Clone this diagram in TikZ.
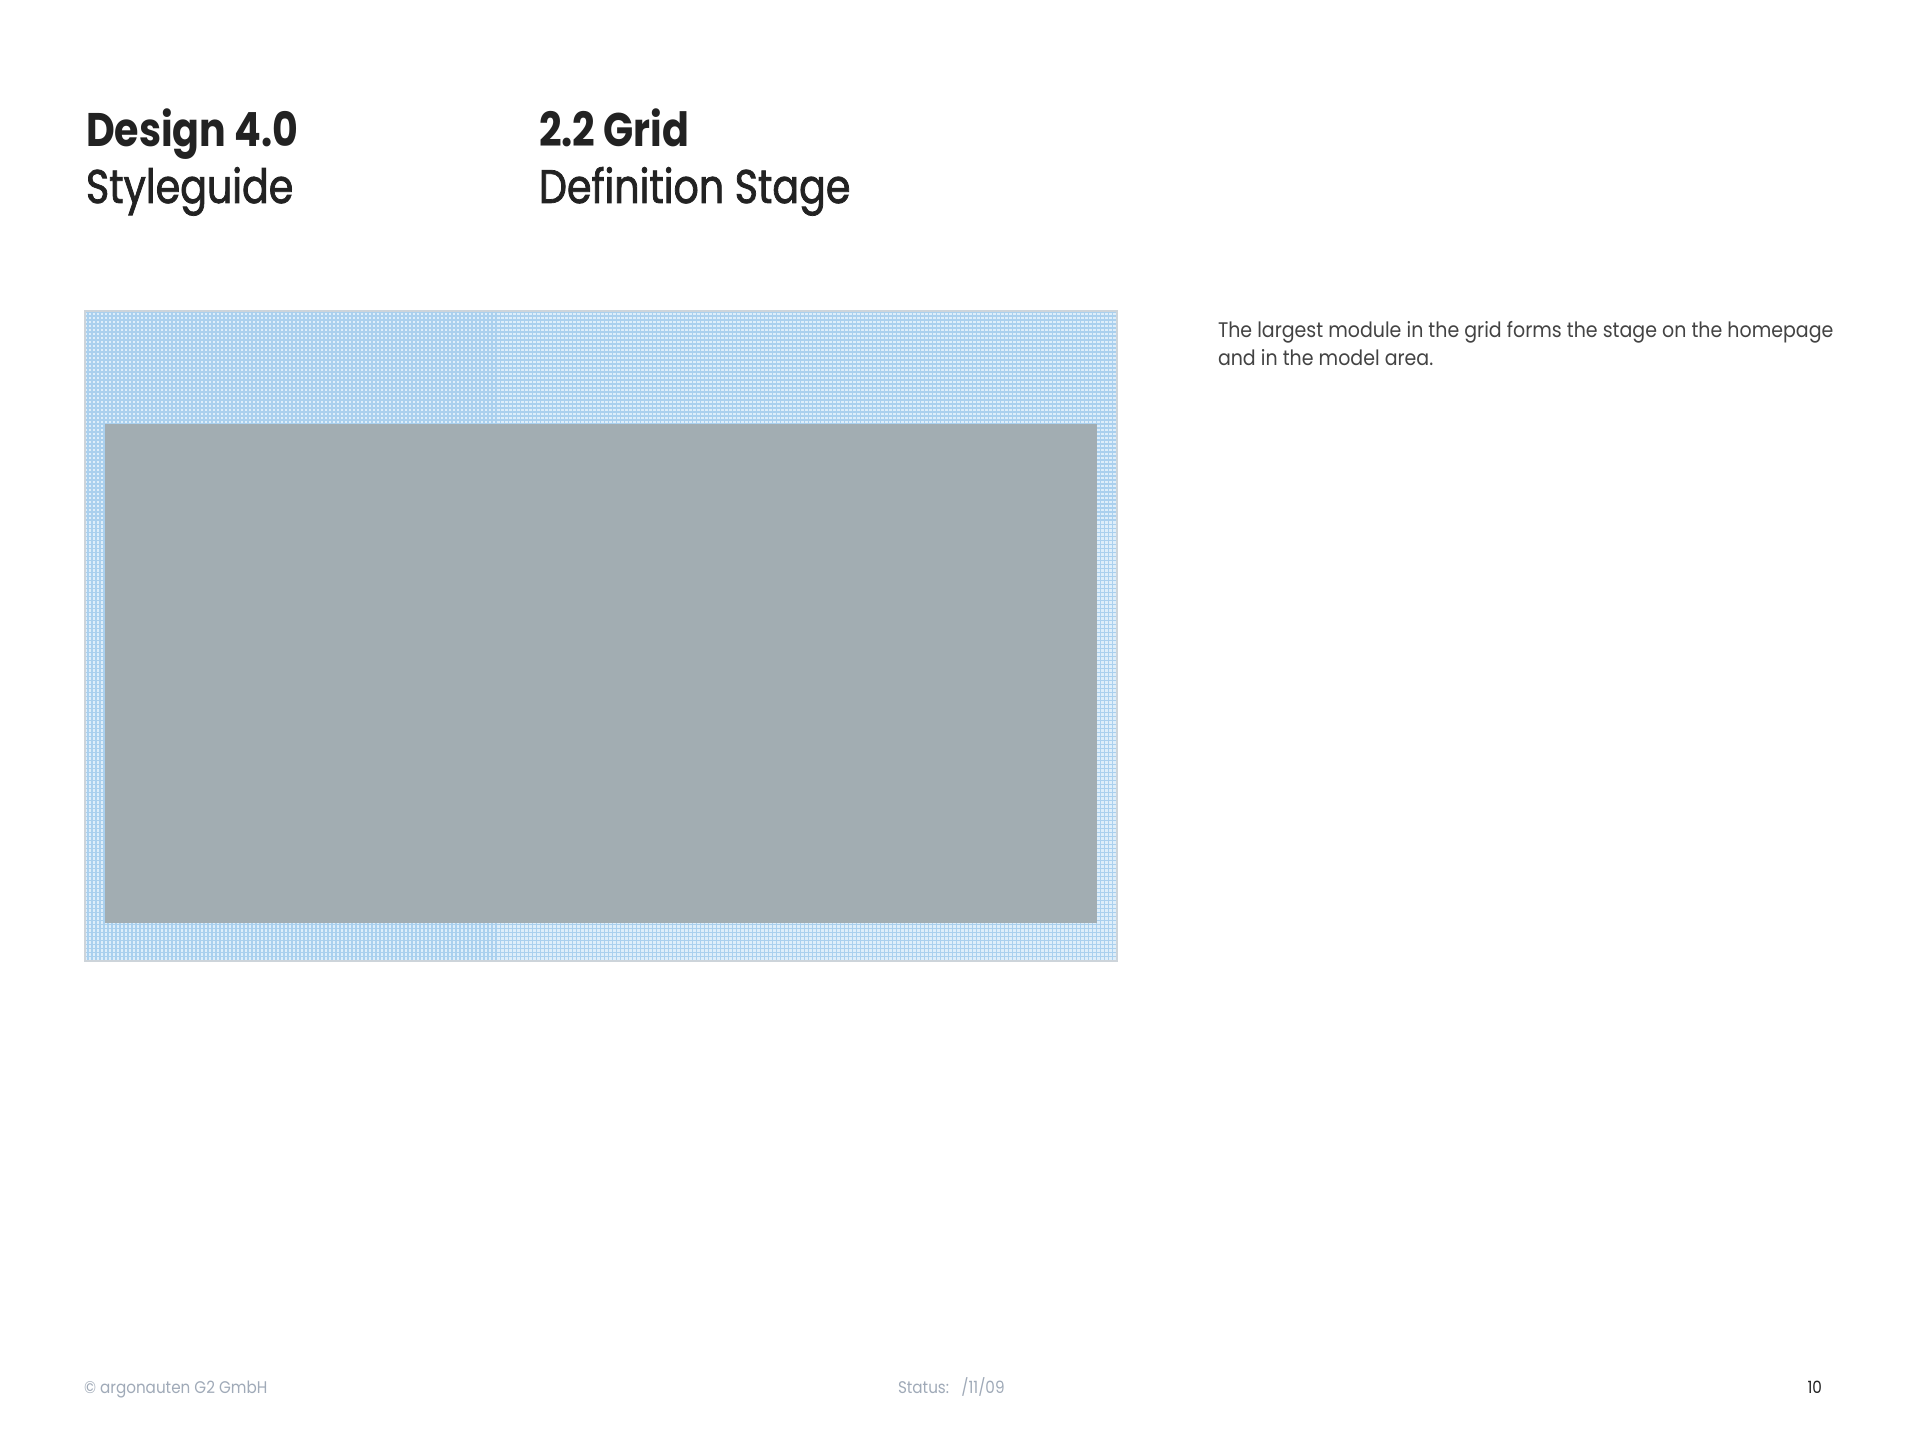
\documentclass[tikz,border=0pt]{standalone}
\usepackage{fontspec}
\setmainfont{Poppins}
\newfontfamily\headfont[FakeStretch=0.84]{Poppins}
\newfontfamily\subfont[FakeStretch=0.84, FakeBold=1.6]{Poppins}
\newfontfamily\bodyfont[FakeStretch=0.9]{Poppins}
\usetikzlibrary{positioning}

\begin{document}
\begin{tikzpicture}[x=0.01cm, y=-0.01cm, every node/.style={inner sep=0pt, outer sep=0pt, anchor=base west}]
    \definecolor{gridfill}{RGB}{222,238,250}
    \definecolor{gridline}{RGB}{170,208,238}
    \definecolor{gridedge}{RGB}{205,212,218}
    \definecolor{stage}{RGB}{162,173,178}
    \definecolor{foot}{RGB}{160,170,184}
    \definecolor{ink}{RGB}{34,34,34}
    \useasboundingbox[fill=white] (0,0) rectangle (1920,1440);
    % Grid
    \fill[fill=gridfill] (85,311) rectangle (1117,961);
    \draw[step=0.04cm, color=gridline, line width=0.4pt] (85,311) grid (1117,961);
    \draw[color=gridedge, line width=0.8pt] (85,311) rectangle (1117,961);
    % Stage
    \node[fill=stage, anchor=north west, minimum width=9.91cm, minimum height=4.99cm] (stage) at (105,424) {};
    % Headline
    \node[font=\headfont\fontsize{13.4}{16}\selectfont\bfseries, color=ink] (design) at (86,147) {Design 4.0};
    \node[font=\subfont\fontsize{13.4}{16}\selectfont, color=ink] (style) at (86,203) {Styleguide};
    \node[font=\headfont\fontsize{13.4}{16}\selectfont\bfseries, color=ink] (grid) at (539,147) {2.2 Grid};
    \node[font=\subfont\fontsize{13.4}{16}\selectfont, color=ink] (defstage) at (539,203) {Definition Stage};
    % Text
    \node[font=\bodyfont\fontsize{6}{8}\selectfont, color=ink!85] (text1) at (1218,338) {The largest module in the grid forms the stage on the homepage};
    \node[font=\bodyfont\fontsize{6}{8}\selectfont, color=ink!85] (text2) at (1218,366) {and in the model area.};
    % Footer
    \node[font=\bodyfont\fontsize{4.8}{6}\selectfont, color=foot] (copy) at (84,1393) {© argonauten G2 GmbH};
    \node[font=\bodyfont\fontsize{4.8}{6}\selectfont, color=foot] (status) at (898,1393) {Status:\ \ \ /11/09};
    \node[font=\bodyfont\fontsize{4.8}{6}\selectfont, color=ink, anchor=base east] (page) at (1822,1393) {10};
\end{tikzpicture}
\end{document}
